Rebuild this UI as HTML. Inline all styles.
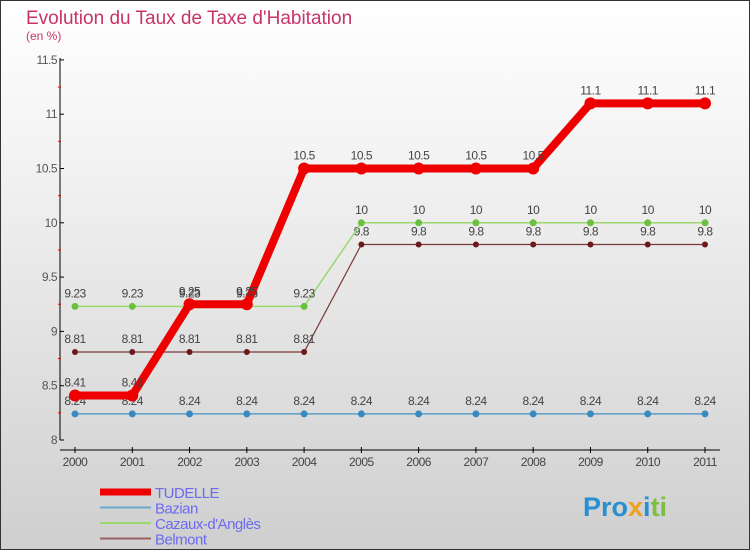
<!DOCTYPE html>
<html><head><meta charset="utf-8"><style>
body{margin:0}
#c{width:750px;height:550px;position:relative;box-sizing:border-box;border:1px solid #333;background:linear-gradient(#fff,#f2f2f2 30%,#cfcfcf);font-family:"Liberation Sans",sans-serif;overflow:hidden}
</style></head><body>
<div id="c">
<svg id="s" width="750" height="550" style="position:absolute;left:-1px;top:-1px">
<text x="26" y="24" font-size="19" fill="#c8336a">Evolution du Taux de Taxe d'Habitation</text>
<text x="26" y="40" font-size="12" fill="#c8336a">(en %)</text>
<g id="axes"></g><g id="series"></g><g id="legend"></g>
<text x="583" y="516" font-size="27" font-weight="bold" fill="#2a8fd0">Pro<tspan fill="#f0a020">x</tspan><tspan fill="#2a8fd0">i</tspan><tspan fill="#7bc043">ti</tspan></text>
</svg>
</div>
<script>
const years=["2000","2001","2002","2003","2004","2005","2006","2007","2008","2009","2010","2011"];
const yTicks=[8,8.5,9,9.5,10,10.5,11,11.5];
const seriesNames=["TUDELLE","Bazian","Cazaux-d'Anglès","Belmont"];
const tudelle=[8.41,8.41,9.25,9.25,10.5,10.5,10.5,10.5,10.5,11.1,11.1,11.1];
const bazian=[8.24,8.24,8.24,8.24,8.24,8.24,8.24,8.24,8.24,8.24,8.24,8.24];
const cazaux=[9.23,9.23,9.23,9.23,9.23,10,10,10,10,10,10,10];
const belmont=[8.81,8.81,8.81,8.81,8.81,9.8,9.8,9.8,9.8,9.8,9.8,9.8];
const NS="http://www.w3.org/2000/svg";
const X=i=>75+i*(630/11);
const Y=v=>440-(v-8)*108.6;
function mk(p,t,a){const e=document.createElementNS(NS,t);for(const k in a)e.setAttribute(k,a[k]);p.appendChild(e);return e;}
const ax=document.getElementById('axes');
let e=mk(ax,'line',{x1:60,y1:58,x2:60,y2:440,stroke:'#000'});


e=mk(ax,'line',{x1:60,y1:450,x2:720,y2:450,stroke:'#000'});


yTicks.forEach((v,i)=>{
 mk(ax,'line',{x1:60,y1:Y(v),x2:64,y2:Y(v),stroke:'#000'});
 if(i<yTicks.length-1)mk(ax,'line',{x1:58,y1:Y(v+0.25),x2:61,y2:Y(v+0.25),stroke:'#e00'});
 const t=mk(ax,'text',{x:57,y:Y(v)+4,'font-size':12,fill:'#555','text-anchor':'end','letter-spacing':'-0.5'});
 t.textContent=String(v);
 
 
});
years.forEach((y,i)=>{
 mk(ax,'line',{x1:X(i),y1:447,x2:X(i),y2:453,stroke:'#000'});
 const t=mk(ax,'text',{x:X(i),y:466,'font-size':12,fill:'#444','text-anchor':'middle','letter-spacing':'-0.5'});
 t.textContent=y;
 
 
});
const sg=document.getElementById('series');
function draw(vals,color,w,r,name,dotColor){
 const g=mk(sg,'g',{});
 
 
 mk(g,'polyline',{points:vals.map((v,i)=>X(i)+','+Y(v)).join(' '),fill:'none',stroke:color,'stroke-width':w,'stroke-linejoin':'round'});
 vals.forEach((v,i)=>{
  const c=mk(g,'circle',{cx:X(i),cy:Y(v),r:r,fill:dotColor});
  
  
  const t=mk(g,'text',{x:X(i),y:Y(v)-9,'font-size':12,fill:'#444','text-anchor':'middle','letter-spacing':'-0.5'});
  t.textContent=String(v);
  
  
 });
}
draw(bazian,'#5a9ec8',1.5,3.5,'bazian','#3a8ac0');
draw(belmont,'#7a3a3a',1.2,3,'belmont','#6a1a1a');
draw(cazaux,'#9ad870',1.5,3.5,'cazaux','#6cc040');
draw(tudelle,'#e00',8,6,'tudelle','#e00');
const lg=document.getElementById('legend');
const lc=['#e00','#6aaad0','#9ad870','#9a6060'],lw=[7,2,2,2];
seriesNames.forEach((n,i)=>{
 const y=492+i*15.5;
 mk(lg,'line',{x1:100,y1:y,x2:151,y2:y,stroke:lc[i],'stroke-width':lw[i]});
 const t=mk(lg,'text',{x:155,y:y+6,'font-size':15,fill:'#6b6bf0','letter-spacing':'-0.5'});
 t.textContent=n;
 
 
});
</script>
</body></html>
